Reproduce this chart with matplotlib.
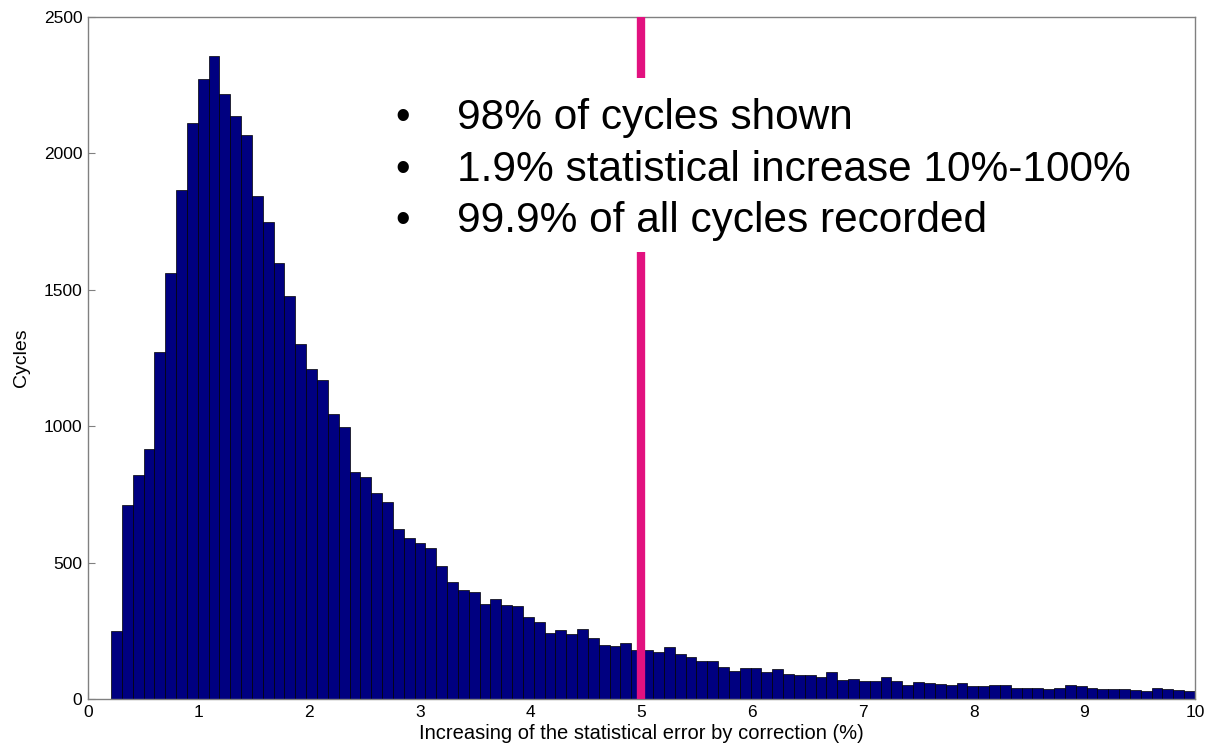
import numpy as np
import matplotlib
matplotlib.use('Agg')
import matplotlib.pyplot as plt
from matplotlib.patches import Rectangle

plt.rcParams['font.family'] = ['Liberation Sans', 'DejaVu Sans']

# Histogram of the error increase: 100 equal bins between the lowest value and 10 %
bin_lo, bin_hi = 0.208, 10.0
counts = [248, 711, 820, 915, 1271, 1560, 1865, 2110, 2274, 2356,
          2219, 2136, 2069, 1845, 1748, 1597, 1478, 1300, 1208, 1168,
          1045, 996, 832, 815, 754, 721, 624, 590, 573, 553,
          489, 429, 401, 391, 349, 367, 345, 341, 299, 281,
          243, 252, 238, 258, 222, 198, 196, 205, 180, 180,
          172, 192, 166, 155, 141, 140, 119, 104, 115, 115,
          98, 110, 93, 89, 89, 79, 99, 70, 73, 67,
          67, 82, 67, 50, 62, 57, 56, 50, 59, 49,
          49, 50, 50, 39, 40, 41, 37, 41, 50, 47,
          39, 37, 38, 38, 33, 30, 39, 35, 34, 31]
threshold = 5.0
notes = ['98% of cycles shown',
         '1.9% statistical increase 10%-100%',
         '99.9% of all cycles recorded']
x_ticks = list(range(0, 11))
y_ticks = [0, 500, 1000, 1500, 2000, 2500]

edges = np.linspace(bin_lo, bin_hi, len(counts) + 1)

fig = plt.figure(figsize=(12.09, 7.48), dpi=100)
ax = fig.add_axes([0.0728, 0.0655, 0.9156, 0.9118])

ax.bar(edges[:-1], counts, width=np.diff(edges), align='edge',
       color='#000080', edgecolor='#000000', linewidth=0.5, zorder=2)

# Threshold marker
ax.axvline(threshold, color='#E2117F', linewidth=6, zorder=3)

# White panel behind the bullet notes
ax.add_patch(Rectangle((0.27, 0.655), 0.70, 0.256, transform=ax.transAxes,
                       facecolor='white', edgecolor='none', zorder=4))

line_y = [0.836, 0.760, 0.685]
for txt, yy in zip(notes, line_y):
    ax.text(0.284, yy, '\u2022', transform=ax.transAxes, fontsize=30,
            ha='center', va='baseline', zorder=5)
    ax.text(0.333, yy, txt, transform=ax.transAxes, fontsize=30.5,
            ha='left', va='baseline', zorder=5)

ax.set_xlim(0, 10)
ax.set_ylim(0, 2500)
ax.set_xticks(x_ticks)
ax.set_yticks(y_ticks)
ax.tick_params(direction='in', length=5, width=0.8, color='#808080',
               labelsize=12.5, pad=4)

for s in ax.spines.values():
    s.set_color('#808080')
    s.set_linewidth(1.0)

ax.set_xlabel('Increasing of the statistical error by correction (%)',
              fontsize=14.5, labelpad=3)
ax.set_ylabel('Cycles', fontsize=14, labelpad=10)

fig.savefig('out.png', dpi=100)
